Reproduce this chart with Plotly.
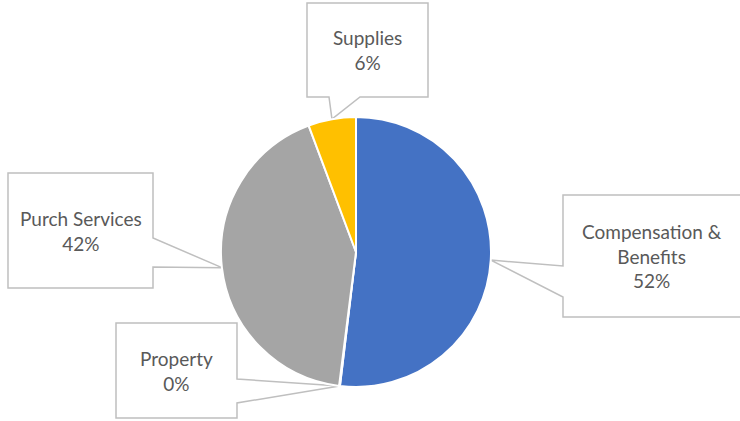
import math
import plotly.graph_objects as go

# Expenditures by object, share of total (%)
labels = ["Compensation & Benefits", "Property", "Purch Services", "Supplies"]
values = [51.9, 0.1, 42.3, 5.7]
colors = ["#4472C4", "#ED7D31", "#A5A5A5", "#FFC000"]
title_text = "Expenditures by Object"

W, H = 740, 421
# pie placement in pixels (centre and radius)
cx, cy, r = 356, 252, 135

# callout boxes: (left, top, right, bottom) in pixels, side the pointer leaves from,
# and the two points along that side where the pointer attaches
callouts = [
    ((563, 195, 742, 317), "left", (266, 297)),
    ((116, 323, 237, 418), "right", (379, 403)),
    ((8, 173, 153, 288), "right", (238, 267)),
    ((307, 3, 428, 97), "bottom", (329, 360)),
]

FONT = "Lato, 'Noto Sans', sans-serif"
TXT = "#595959"
LINE = "#BFBFBF"


def px(x, y):
    return x / W, 1 - y / H


def path_from(points):
    parts = []
    for i, (x, y) in enumerate(points):
        u, v = px(x, y)
        parts.append(("M" if i == 0 else "L") + f"{u:.5f},{v:.5f}")
    return " ".join(parts) + " Z"


fig = go.Figure(go.Pie(
    labels=labels,
    values=values,
    sort=False,
    direction="clockwise",
    rotation=0,
    textinfo="none",
    marker=dict(colors=colors, line=dict(color="white", width=2)),
    domain=dict(x=[(cx - r) / W, (cx + r) / W], y=[1 - (cy + r) / H, 1 - (cy - r) / H]),
    showlegend=False,
))

total = sum(values)
cum = 0
shapes = []
annotations = []
for lab, val, (box, side, att) in zip(labels, values, callouts):
    mid = (cum + val / 2) / total * 2 * math.pi
    cum += val
    tx = cx + r * math.sin(mid)
    ty = cy - r * math.cos(mid)
    l, t, rr, b = box
    if side == "left":
        pts = [(l, t), (rr, t), (rr, b), (l, b), (l, att[1]), (tx, ty), (l, att[0])]
    elif side == "right":
        pts = [(l, t), (rr, t), (rr, att[0]), (tx, ty), (rr, att[1]), (rr, b), (l, b)]
    else:
        pts = [(l, t), (rr, t), (rr, b), (att[1], b), (tx, ty), (att[0], b), (l, b)]
    shapes.append(dict(type="path", path=path_from(pts), xref="paper", yref="paper",
                       line=dict(color=LINE, width=1.5), fillcolor="white", layer="below"))
    pct = round(val / total * 100)
    text = lab.replace("& ", "&<br>") + f"<br>{pct}%"
    ax, ay = px((l + min(rr, W)) / 2, (t + b) / 2)
    annotations.append(dict(x=ax, y=ay, xref="paper", yref="paper", text=text,
                            showarrow=False, xanchor="center", yanchor="middle",
                            font=dict(family=FONT, size=19, color=TXT)))

# chart title: in the source it sits above the crop, only its descenders show
annotations.append(dict(x=392 / W, y=1 - 1 / H, xref="paper", yref="paper", text=title_text,
                        showarrow=False, xanchor="center", yanchor="bottom",
                        font=dict(family=FONT, size=30, color=TXT)))

fig.update_layout(
    width=W, height=H,
    margin=dict(l=0, r=0, t=0, b=0),
    paper_bgcolor="white",
    plot_bgcolor="white",
    shapes=shapes,
    annotations=annotations,
)

# drop the page's default body margin so the figure sits at the window corner
fig.write_html("out.html", config={"displayModeBar": False},
               post_script="document.body.style.margin = '0';")
